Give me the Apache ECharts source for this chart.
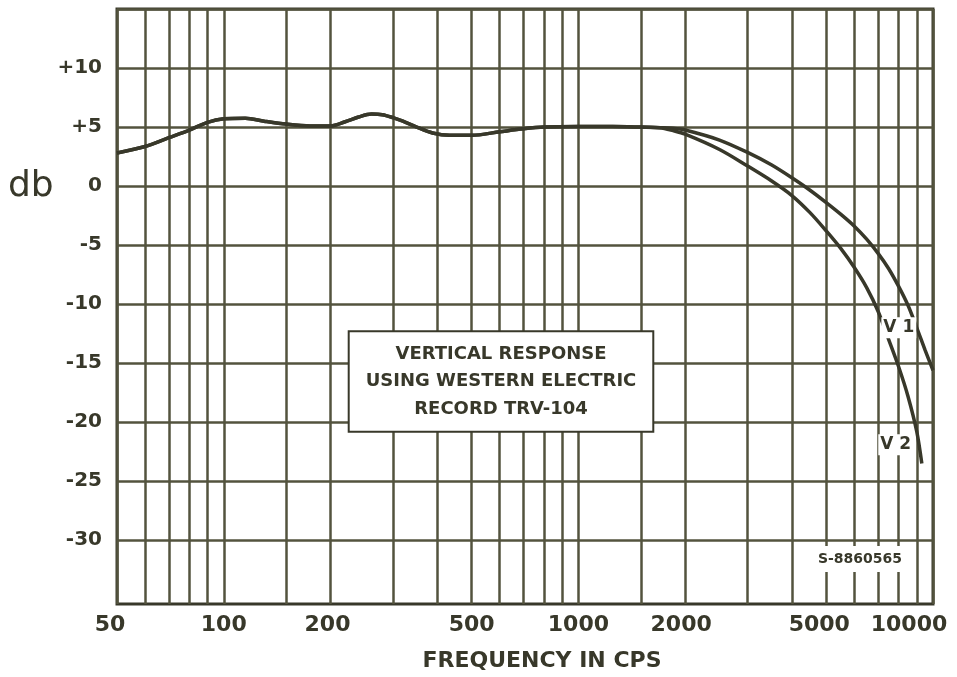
<!DOCTYPE html>
<html>
<head>
<meta charset="utf-8">
<script src="https://cdn.jsdelivr.net/npm/echarts@6/dist/echarts.min.js"></script>
<style>
  html, body { margin: 0; padding: 0; background: #ffffff; }
  #chart { width: 957px; height: 677px; }
</style>
</head>
<body>
<div id="chart"></div>
<script>
// Frequency grid (log paper) and labelled frequencies, in cycles per second
const gridFreqs = [50, 60, 70, 80, 90, 100, 150, 200, 300, 400, 500, 600, 700, 800, 900,
                   1000, 1500, 2000, 3000, 4000, 5000, 6000, 7000, 8000, 9000, 10000];
const freqLabels = [50, 100, 200, 500, 1000, 2000, 5000, 10000];

// Level grid and labels, in db
const dbGrid = [-30, -25, -20, -15, -10, -5, 0, 5, 10, 15];
const dbLabels = [-30, -25, -20, -15, -10, -5, 0, 5, 10];

// Response shared by both channels up to about 1.7 kc
const commonFreq = [50, 60, 70, 80, 90, 100, 115, 130, 150, 175, 200, 220, 240, 261, 280, 300, 320,
                    350, 388, 433, 500, 600, 700, 800, 1000, 1250, 1500, 1700];
const commonDb   = [2.8, 3.35, 4.1, 4.75, 5.4, 5.7, 5.75, 5.5, 5.25, 5.1, 5.1, 5.45, 5.85, 6.1, 6.05, 5.8, 5.5,
                    5.0, 4.5, 4.3, 4.3, 4.6, 4.85, 5.0, 5.05, 5.05, 5.0, 4.95];

// High-frequency roll-off, channel V1
const v1Freq = [1850, 2000, 2500, 3000, 3500, 4000, 4500, 5000, 5500, 6000, 6500, 7000, 7500,
                8000, 8500, 9000, 9500, 10000];
const v1Db   = [4.9, 4.75, 3.9, 2.85, 1.8, 0.7, -0.35, -1.4, -2.4, -3.4, -4.5, -5.7, -7.0,
                -8.5, -10.1, -12.0, -13.9, -15.6];

// High-frequency roll-off, channel V2
const v2Freq = [1850, 2000, 2500, 3000, 3500, 4000, 4500, 5000, 5500, 6000, 6500, 7000, 7500,
                8000, 8500, 9000, 9300];
const v2Db   = [4.7, 4.4, 3.1, 1.7, 0.45, -0.8, -2.25, -3.8, -5.3, -6.9, -8.6, -10.6, -13.0,
                -15.3, -17.8, -20.8, -23.5];

const INK = '#38382a';
const GRID_INK = '#53533e';
const FONT = '"DejaVu Sans", "Liberation Sans", sans-serif';

const pairs = (fs, vs) => fs.map((f, i) => [f, vs[i]]);
const common = pairs(commonFreq, commonDb);
const v1Data = common.concat(pairs(v1Freq, v1Db));
const v2Data = common.concat(pairs(v2Freq, v2Db));

// Small horizontal nudges for a few frequency labels (pixels, negative = left)
const labelNudge = { 50: -7, 200: -3, 2000: -4, 5000: -7, 10000: -24 };
const freqRich = {};
freqLabels.forEach(v => {
  const s = labelNudge[v] || 0;
  freqRich['f' + v] = {
    fontFamily: FONT, fontWeight: 'bold', fontSize: 22, color: INK,
    padding: [0, s < 0 ? -2 * s : 0, 0, s > 0 ? 2 * s : 0]
  };
});

const chart = echarts.init(document.getElementById('chart'), null, { renderer: 'canvas' });

chart.setOption({
  backgroundColor: '#ffffff',
  animation: false,
  grid: {
    left: 117, right: 24, top: 9, bottom: 73,
    show: true, borderColor: INK, borderWidth: 3, backgroundColor: 'transparent'
  },
  xAxis: {
    type: 'log',
    logBase: 10,
    min: 50,
    max: 10000,
    name: 'FREQUENCY IN CPS',
    nameLocation: 'middle',
    nameGap: 46,
    nameTextStyle: {
      fontFamily: FONT, fontWeight: 'bold', fontSize: 22, color: INK,
      padding: [0, 0, 0, 34]
    },
    axisLine: { show: false },
    axisTick: { show: false, customValues: gridFreqs },
    splitLine: { show: true, lineStyle: { color: GRID_INK, width: 2.5 } },
    minorSplitLine: { show: false },
    axisLabel: {
      customValues: freqLabels,
      margin: 10,
      formatter: v => { const n = Math.round(v); return '{f' + n + '|' + n + '}'; },
      rich: freqRich
    }
  },
  yAxis: {
    type: 'value',
    min: -35.4,
    max: 15,
    axisLine: { show: false },
    axisTick: { show: false, customValues: dbGrid },
    splitLine: { show: true, lineStyle: { color: GRID_INK, width: 2.5 } },
    axisLabel: {
      customValues: dbLabels,
      margin: 15,
      fontFamily: FONT, fontWeight: 'bold', fontSize: 20, color: INK,
      formatter: v => (v > 0 ? '+' + v : String(v))
    }
  },
  series: [
    {
      name: 'V 1',
      type: 'line',
      data: v1Data,
      smooth: 0.3,
      showSymbol: false,
      lineStyle: { color: INK, width: 3.5 },
      z: 3,
      markPoint: {
        symbol: 'rect', symbolSize: 0, silent: true,
        label: {
          show: true, position: 'inside', formatter: 'V 1',
          fontFamily: FONT, fontWeight: 'bold', fontSize: 17, color: INK,
          backgroundColor: '#ffffff', padding: [2, 2]
        },
        data: [{ coord: [8010, -12.0] }]
      }
    },
    {
      name: 'V 2',
      type: 'line',
      data: v2Data,
      smooth: 0.3,
      showSymbol: false,
      lineStyle: { color: INK, width: 3.5 },
      z: 3,
      markPoint: {
        symbol: 'rect', symbolSize: 0, silent: true,
        label: {
          show: true, position: 'inside', formatter: 'V 2',
          fontFamily: FONT, fontWeight: 'bold', fontSize: 17, color: INK,
          backgroundColor: '#ffffff', padding: [2, 2]
        },
        data: [{ coord: [7850, -21.9] }]
      }
    }
  ],
  graphic: [
    {
      type: 'text', x: 8, y: 187, silent: true,
      style: {
        text: 'db', font: '36px "DejaVu Sans", sans-serif', fill: INK,
        align: 'left', verticalAlign: 'middle'
      }
    },
    {
      type: 'text', x: 501, y: 381.5, silent: true, z: 100,
      style: {
        text: 'VERTICAL RESPONSE\nUSING WESTERN ELECTRIC\nRECORD TRV-104',
        font: 'bold 18px "DejaVu Sans", sans-serif', fill: INK,
        align: 'center', verticalAlign: 'middle', lineHeight: 27.5,
        backgroundColor: '#ffffff', borderColor: INK, borderWidth: 2,
        padding: [9, 16, 7, 16]
      }
    },
    {
      type: 'text', x: 860, y: 559, silent: true, z: 100,
      style: {
        text: 'S-8860565', font: 'bold 14px "DejaVu Sans", sans-serif', fill: INK,
        align: 'center', verticalAlign: 'middle',
        backgroundColor: '#ffffff', padding: [6, 3]
      }
    }
  ]
});
</script>
</body>
</html>
